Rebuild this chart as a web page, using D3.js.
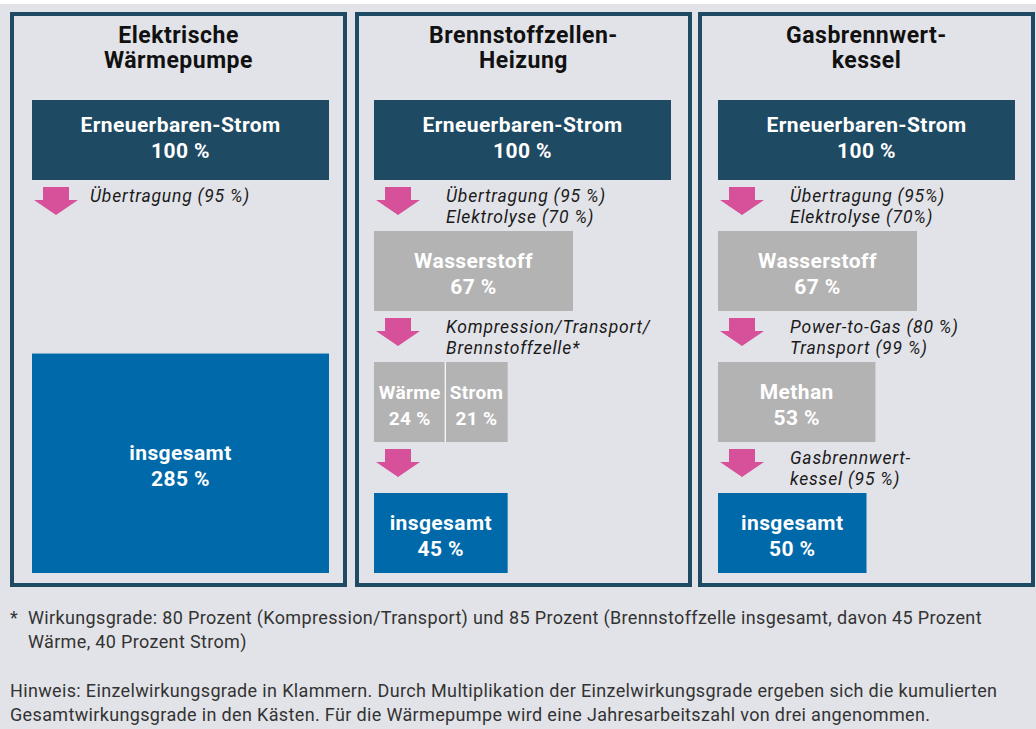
<!DOCTYPE html>
<html>
<head>
<meta charset="utf-8">
<script src="https://cdn.jsdelivr.net/npm/d3@7"></script>
<style>
  body { margin: 0; background: #fff; }
  svg { display: block; font-family: Roboto, "Open Sans", sans-serif; }
</style>
</head>
<body>
<script>
// panel titles
const titles = [["Elektrische", "Wärmepumpe"], ["Brennstoffzellen-", "Heizung"], ["Gasbrennwert-", "kessel"]];

// stages + cumulated efficiency (%) per heating path
const heatPumpStages = ["Erneuerbaren-Strom", "insgesamt"];
const heatPumpValues = [100, 285];
const heatPumpSteps = [["Übertragung (95 %)"]];

const fuelCellStages = ["Erneuerbaren-Strom", "Wasserstoff", ["Wärme", "Strom"], "insgesamt"];
const fuelCellValues = [100, 67, [24, 21], 45];
const fuelCellSteps = [["Übertragung (95 %)", "Elektrolyse (70 %)"], ["Kompression/Transport/", "Brennstoffzelle*"], []];

const gasStages = ["Erneuerbaren-Strom", "Wasserstoff", "Methan", "insgesamt"];
const gasValues = [100, 67, 53, 50];
const gasSteps = [["Übertragung (95%)", "Elektrolyse (70%)"], ["Power-to-Gas (80 %)", "Transport (99 %)"], ["Gasbrennwert-", "kessel (95 %)"]];

const footnote = ["Wirkungsgrade: 80 Prozent (Kompression/Transport) und 85 Prozent (Brennstoffzelle insgesamt, davon 45 Prozent",
                  "Wärme, 40 Prozent Strom)"];
const hint = ["Hinweis: Einzelwirkungsgrade in Klammern. Durch Multiplikation der Einzelwirkungsgrade ergeben sich die kumulierten",
              "Gesamtwirkungsgrade in den Kästen. Für die Wärmepumpe wird eine Jahresarbeitszahl von drei angenommen."];

const w = 1036, h = 729;
const boxH = 80, rowStep = 131, top0 = 100;
const unitH = 77;   // height of 100 % inside the tall (over 100 %) box

const panels = [
  {x: 10, boxDx: 22, labelDx: 58, stages: heatPumpStages, values: heatPumpValues, steps: heatPumpSteps, rows: [0, 3]},
  {x: 355, boxDx: 19, labelDx: 72, stages: fuelCellStages, values: fuelCellValues, steps: fuelCellSteps, rows: [0, 1, 2, 3]},
  {x: 698, boxDx: 20, labelDx: 72, stages: gasStages, values: gasValues, steps: gasSteps, rows: [0, 1, 2, 3]}
];

const xScale = d3.scaleLinear().domain([0, 100]).range([0, 297]);

const colors = {dark: "#1f4a63", grey: "#b3b3b3", blue: "#0069aa", pink: "#d6519a"};

const svg = d3.select("body").append("svg")
  .attr("width", w)
  .attr("height", h);

svg.append("rect").attr("x", 0).attr("y", 4).attr("width", w).attr("height", h - 4).attr("fill", "#e2e3e8");

panels.forEach((p, pi) => {
  const g = svg.append("g");
  g.append("rect")
    .attr("x", p.x + 2).attr("y", 14)
    .attr("width", 333).attr("height", 571)
    .attr("fill", "none")
    .attr("stroke", colors.dark)
    .attr("stroke-width", 4);

  // title
  g.append("text")
    .attr("x", p.x + 168.5).attr("y", 43)
    .attr("text-anchor", "middle")
    .attr("font-size", 23).attr("font-weight", 700).attr("fill", "#111")
    .attr("letter-spacing", 0.5)
    .selectAll("tspan").data(titles[pi]).enter().append("tspan")
    .attr("x", p.x + 168.5).attr("dy", (d, i) => i ? 25 : 0)
    .text(d => d);

  const left = p.x + p.boxDx;
  const last = p.stages.length - 1;

  p.stages.forEach((name, si) => {
    const v = p.values[si];
    const total = Array.isArray(v) ? d3.sum(v) : v;
    const bw = xScale(Math.min(total, 100));
    const bh = total > 100 ? unitH * total / 100 : boxH;
    const rowBottom = top0 + p.rows[si] * rowStep + boxH;
    const y = rowBottom - bh;
    const fill = si === 0 ? colors.dark : si === last ? colors.blue : colors.grey;

    g.append("rect")
      .attr("x", left).attr("y", y)
      .attr("width", bw).attr("height", bh)
      .attr("fill", fill);

    const parts = Array.isArray(v) ? v.map((d, k) => ({name: name[k], value: d})) : [{name: name, value: v}];
    const dy1 = si === 0 ? -8 : -3, dy2 = si === 0 ? 18 : 23;
    let px = left;
    parts.forEach((part, k) => {
      const pw = parts.length > 1 ? xScale(part.value) * bw / xScale(total) : bw;
      const cx = px + pw / 2, cy = y + bh / 2;
      const fs = parts.length > 1 ? 19 : 21;
      const ls = parts.length > 1 ? 0.3 : 0.4;
      g.append("text")
        .attr("x", cx).attr("y", cy + dy1)
        .attr("text-anchor", "middle")
        .attr("font-size", fs).attr("font-weight", 700).attr("fill", "#fff")
        .attr("letter-spacing", ls)
        .text(part.name);
      g.append("text")
        .attr("x", cx).attr("y", cy + dy2)
        .attr("text-anchor", "middle")
        .attr("font-size", fs).attr("font-weight", 700).attr("fill", "#fff")
        .attr("letter-spacing", ls)
        .text(part.value + " %");
      if (k > 0) {
        g.append("line")
          .attr("x1", px).attr("x2", px)
          .attr("y1", y).attr("y2", y + bh)
          .attr("stroke", "#fff").attr("stroke-width", 1.2);
      }
      px += pw;
    });

    // arrow + step label below the box
    if (si < last) {
      const ay = rowBottom + 7;
      const ax = left + 24;
      g.append("path")
        .attr("d", `M${ax - 13},${ay} H${ax + 13} V${ay + 13} H${ax + 22} L${ax},${ay + 28} L${ax - 22},${ay + 13} H${ax - 13} Z`)
        .attr("fill", colors.pink);
      g.append("text")
        .attr("y", rowBottom + 22)
        .attr("font-size", 17.5).attr("font-style", "italic").attr("fill", "#1a1a1a")
        .attr("letter-spacing", 0.8)
        .selectAll("tspan").data(p.steps[si]).enter().append("tspan")
        .attr("x", left + p.labelDx).attr("dy", (d, i) => i ? 21 : 0)
        .text(d => d);
    }
  });
});

// footnotes
const notes = svg.append("g").attr("font-size", 18).attr("fill", "#333").attr("letter-spacing", 0.35);
notes.append("text").attr("x", 10).attr("y", 624).text("*");
notes.selectAll(".fn").data(footnote).enter().append("text")
  .attr("class", "fn")
  .attr("x", 28).attr("y", (d, i) => 624 + i * 24)
  .text(d => d);
notes.selectAll(".hint").data(hint).enter().append("text")
  .attr("class", "hint")
  .attr("x", 10).attr("y", (d, i) => 697 + i * 24)
  .text(d => d);
</script>
</body>
</html>
